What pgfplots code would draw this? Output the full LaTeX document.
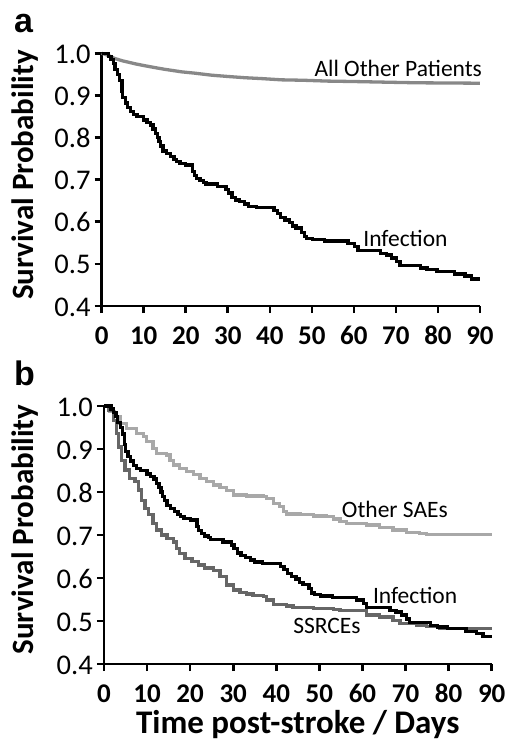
\documentclass[border=0pt]{standalone}
\usepackage{pgfplots}
\pgfplotsset{compat=1.18}
\usepackage{pgfplotstable}
\usepackage{fontspec}
\setmainfont{Carlito}[Numbers=Lining]
\newfontfamily\arialfont{Liberation Sans}
\definecolor{allother}{HTML}{888888}
\definecolor{othersae}{HTML}{A8A8A8}
\definecolor{ssrce}{HTML}{666666}

\pgfplotstableread{
t S
0 1.000
1.6 0.993
2.2 0.985
2.8 0.975
3.2 0.962
3.8 0.950
4.3 0.935
4.8 0.910
5.0 0.895
5.6 0.882
6.2 0.872
6.8 0.862
7.6 0.855
8.4 0.850
10.0 0.842
10.8 0.836
11.6 0.830
12.2 0.820
12.8 0.810
13.2 0.800
13.6 0.790
14.0 0.780
14.6 0.768
15.4 0.762
16.4 0.755
17.2 0.748
17.8 0.743
18.6 0.739
20.0 0.735
21.6 0.720
22.0 0.710
22.6 0.703
23.4 0.698
24.2 0.694
24.8 0.690
27.6 0.684
29.6 0.677
30.2 0.668
31.0 0.658
31.8 0.652
32.8 0.648
34.0 0.642
35.0 0.637
36.8 0.634
41.0 0.626
41.8 0.620
42.6 0.610
43.6 0.604
44.6 0.598
45.4 0.590
46.2 0.585
47.6 0.575
48.2 0.565
48.8 0.561
50.2 0.558
53.0 0.554
58.6 0.549
60.2 0.541
61.0 0.532
66.4 0.525
67.8 0.521
69.0 0.514
70.2 0.505
71.0 0.497
75.8 0.490
77.4 0.486
79.8 0.482
84.0 0.476
86.4 0.471
88.0 0.464
90.0 0.464
}\infection

\pgfplotstableread{
t S
0 1.000
1 0.997
2 0.993
3 0.988
4 0.985
5 0.982
6.3 0.979
8 0.975
10 0.971
12.7 0.966
15 0.962
19 0.956
22 0.953
26.2 0.948
30 0.945
34.1 0.942
38 0.940
42.8 0.937
48 0.936
53.8 0.934
60 0.933
69.8 0.931
75 0.930
90 0.929
}\allother

\pgfplotstableread{
t S
0 1.000
1.4 0.987
2.5 0.975
3.7 0.960
5.3 0.948
7.6 0.936
9.1 0.929
9.9 0.917
11.4 0.902
12.2 0.890
14.5 0.886
15.3 0.874
16.1 0.863
17.6 0.855
19.2 0.847
20.7 0.840
22.3 0.832
23.8 0.824
25.4 0.816
26.9 0.811
28.5 0.803
30.0 0.793
33.1 0.791
37.0 0.789
37.7 0.785
39.3 0.774
40.8 0.766
41.6 0.754
42.4 0.749
45.5 0.747
48.6 0.744
51.7 0.743
53.2 0.737
54.8 0.731
56.3 0.727
58.6 0.726
60.9 0.723
64.0 0.718
67.1 0.712
70.2 0.706
73.3 0.704
74.9 0.702
90.0 0.702
}\othersae

\pgfplotstableread{
t S
0 1.000
1.0 0.990
2.2 0.967
2.9 0.936
3.3 0.905
4.1 0.874
4.9 0.851
6.0 0.832
7.2 0.824
8.0 0.805
8.7 0.781
9.5 0.762
10.3 0.747
11.4 0.727
12.2 0.712
13.4 0.700
14.6 0.692
16.1 0.684
16.9 0.669
17.6 0.657
18.8 0.646
20.4 0.638
21.9 0.630
23.4 0.623
25.4 0.617
26.9 0.603
28.5 0.584
30.0 0.572
31.6 0.566
33.1 0.563
34.6 0.560
37.0 0.557
37.7 0.549
39.3 0.539
42.4 0.535
43.9 0.532
48.6 0.529
53.2 0.527
54.8 0.524
60.9 0.514
64.0 0.509
67.1 0.502
68.7 0.495
72.5 0.491
74.9 0.487
78.0 0.483
90.0 0.483
}\ssrce

\pgfplotsset{
  kmaxis/.style={
    scale only axis,
    axis lines=left,
    axis line style={-, line width=2.6pt},
    xmin=0, xmax=90, ymin=0.4, ymax=1.0,
    xtick={0,10,20,30,40,50,60,70,80,90},
    xticklabels={0,10,20,30,40,50,60,70,80,90},
    ytick={0.4,0.5,0.6,0.7,0.8,0.9,1.0},
    yticklabels={0.4,0.5,0.6,0.7,0.8,0.9,1.0},
    tick style={line width=2.6pt, black},
    major tick length=7pt,
    tick align=outside,
    yticklabel style={font=\fontsize{28.5}{32}\selectfont, anchor=base east, inner sep=0pt, xshift=-4pt, yshift=-10pt},
    xticklabel style={font=\fontsize{27}{30}\selectfont\bfseries, anchor=base, inner sep=0pt, yshift=-31pt},
    ylabel={Survival Probability},
    ylabel style={font=\fontsize{31}{34}\selectfont\bfseries, anchor=base},
    clip=false,
  }
}

\begin{document}
\begin{tikzpicture}
\path[use as bounding box] (0,0) rectangle (507pt,-745pt);

\begin{axis}[kmaxis,
  at={(101.7pt,-306pt)}, anchor=south west,
  width=378.3pt, height=252.7pt,
  ylabel style={at={(axis description cs:-0.181,0.518)}},
]
\addplot[allother, line width=3.3pt] table[x=t,y=S] {\allother};
\addplot[black, line width=3.3pt, const plot] table[x=t,y=S] {\infection};
\node[anchor=base east, font=\fontsize{23.5}{28}\selectfont, inner sep=0pt] at (axis cs:90.5,0.946) {All Other Patients};
\node[anchor=base west, font=\fontsize{23.5}{28}\selectfont, inner sep=0pt] at (axis cs:62.2,0.541) {Infection};
\end{axis}

\begin{axis}[kmaxis,
  at={(104pt,-664pt)}, anchor=south west,
  width=387.7pt, height=258pt,
  ylabel style={at={(axis description cs:-0.182,0.521)}},
  xlabel={Time post-stroke / Days},
  xlabel style={font=\fontsize{33}{36}\selectfont\bfseries, anchor=base, at={(axis description cs:0.5,-0.269)}},
]
\addplot[othersae, line width=3.3pt, const plot] table[x=t,y=S] {\othersae};
\addplot[ssrce, line width=3.3pt, const plot] table[x=t,y=S] {\ssrce};
\addplot[black, line width=3.3pt, const plot] table[x=t,y=S] {\infection};
\node[anchor=base west, font=\fontsize{23.5}{28}\selectfont, inner sep=0pt] at (axis cs:55.2,0.741) {Other SAEs};
\node[anchor=base west, font=\fontsize{23.5}{28}\selectfont, inner sep=0pt] at (axis cs:62.4,0.541) {Infection};
\node[anchor=base west, font=\fontsize{23.5}{28}\selectfont, inner sep=0pt] at (axis cs:43.9,0.471) {SSRCEs};
\end{axis}

\node[anchor=base west, inner sep=0pt, font=\fontsize{34}{36}\selectfont\arialfont\bfseries] at (14pt,-32pt) {a};
\node[anchor=base west, inner sep=0pt, font=\fontsize{34}{36}\selectfont\arialfont\bfseries] at (14pt,-385pt) {b};
\end{tikzpicture}
\end{document}
